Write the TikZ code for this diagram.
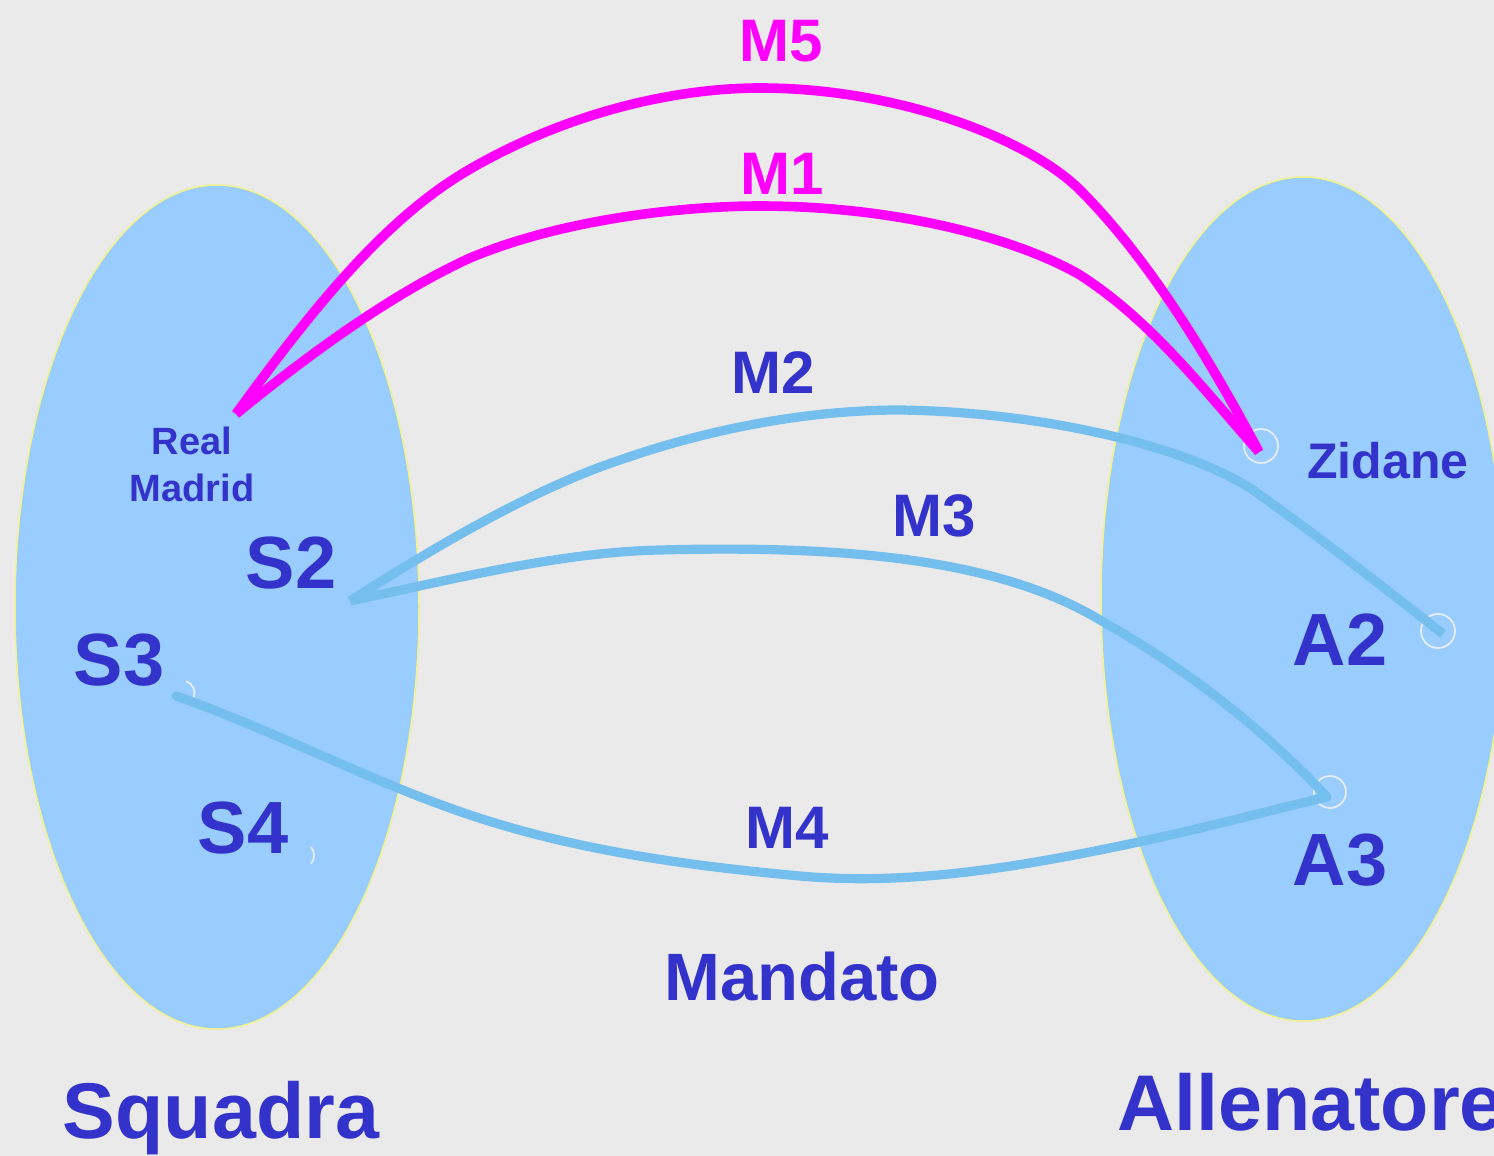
\documentclass[tikz,border=0pt]{standalone}
\usepackage{fontspec}
\setmainfont{Liberation Sans}
\usetikzlibrary{shapes.geometric}
\definecolor{bg}{HTML}{EAEAEA}
\definecolor{setfill}{HTML}{99CCFF}
\definecolor{setedge}{HTML}{F2F28C}
\definecolor{txt}{HTML}{3333CC}
\definecolor{mag}{HTML}{FF00FF}
\definecolor{lnk}{HTML}{74BFEE}
\definecolor{ring}{HTML}{E6ECF4}
\tikzset{
  setshape/.style={ellipse, fill=setfill, draw=setedge, line width=0.75pt, inner sep=0pt, minimum width=202pt, minimum height=422pt},
  lbl/.style={anchor=base, inner sep=0pt, text=txt, font=\bfseries\fontsize{30}{36}\selectfont},
  maglbl/.style={lbl, text=mag},
  elem/.style={anchor=base, inner sep=0pt, text=txt, font=\bfseries\fontsize{37}{44}\selectfont},
  title/.style={anchor=base, inner sep=0pt, text=txt, font=\bfseries\fontsize{39.5}{46}\selectfont},
  small/.style={anchor=base, inner sep=0pt, text=txt, font=\bfseries\fontsize{19}{23}\selectfont},
  magline/.style={draw=mag, line width=4.8pt},
  bluline/.style={draw=lnk, line width=4.6pt},
  ringst/.style={draw=ring, line width=0.9pt}
}
\begin{document}
\begin{tikzpicture}[x=0.5pt,y=-0.5pt]
\useasboundingbox (0,0) rectangle (1494,1156);
\clip (0,0) rectangle (1494,1156);
\fill[bg] (0,0) rectangle (1494,1156);
% sets
\node[setshape] (Sq) at (217,607) {};
\node[setshape] (Al) at (1303,599) {};
% endpoint rings
\draw[ringst] (1261,446) circle (17);
\draw[ringst] (1438,631) circle (17);
\draw[ringst] (1330,792) circle (16);
\draw[ringst] (186,681) arc (-70:20:13);
\draw[ringst] (311,847) arc (-40:40:13);
% endpoints
\coordinate (rm) at (236,414);
\coordinate (zid) at (1259,452);
\coordinate (s2p) at (350,601);
\coordinate (a2p) at (1443,634);
\coordinate (a3p) at (1327,797);
\coordinate (s3p) at (176,696);
% magenta links
\draw[magline] (rm) .. controls (315,305) and (385,220) .. (465,172)
  .. controls (570,110) and (680,88) .. (760,88)
  .. controls (900,88) and (1030,140) .. (1080,190)
  .. controls (1150,260) and (1210,360) .. (zid);
\draw[magline] (rm) .. controls (320,345) and (400,290) .. (470,258)
  .. controls (560,220) and (680,206) .. (760,206)
  .. controls (900,206) and (1020,240) .. (1080,275)
  .. controls (1150,320) and (1200,385) .. (zid);
% blue links
\draw[bluline] (s2p) .. controls (430,550) and (530,490) .. (620,460)
  .. controls (700,432) and (800,410) .. (900,410)
  .. controls (1050,412) and (1200,450) .. (1260,495)
  .. controls (1330,545) and (1400,600) .. (a2p);
\draw[bluline] (s2p) .. controls (450,580) and (560,552) .. (660,550)
  .. controls (850,545) and (1000,560) .. (1100,620)
  .. controls (1180,665) and (1260,725) .. (a3p);
\draw[bluline, line cap=round] (s3p) .. controls (260,725) and (370,780) .. (450,808)
  .. controls (560,848) and (680,865) .. (800,876)
  .. controls (900,885) and (1000,870) .. (1100,850)
  .. controls (1200,830) and (1270,810) .. (a3p);
% labels
\node[maglbl] (m5) at (781,62) {M5};
\node[maglbl] (m1) at (782,194) {M1};
\node[lbl] (m2) at (773,393) {M2};
\node[lbl] (m3) at (934,536) {M3};
\node[lbl] (m4) at (787,848) {M4};
\node[lbl, font=\bfseries\fontsize{33.5}{40}\selectfont] (mand) at (802,1000) {Mandato};
\node[title] (squadra) at (221,1138) {Squadra};
\node[title, anchor=base west] (allen) at (1117,1130) {Allenatore};
\node[small] (real) at (192,454) {Real};
\node[small] (madrid) at (192,501) {Madrid};
\node[small, anchor=base west, font=\bfseries\fontsize{25}{30}\selectfont] (zidane) at (1307,478) {Zidane};
\node[elem] (s2) at (291,588) {S2};
\node[elem] (s3) at (119,685) {S3};
\node[elem] (s4) at (243,853) {S4};
\node[elem] (a2) at (1340,665) {A2};
\node[elem] (a3) at (1340,885) {A3};
\end{tikzpicture}
\end{document}
